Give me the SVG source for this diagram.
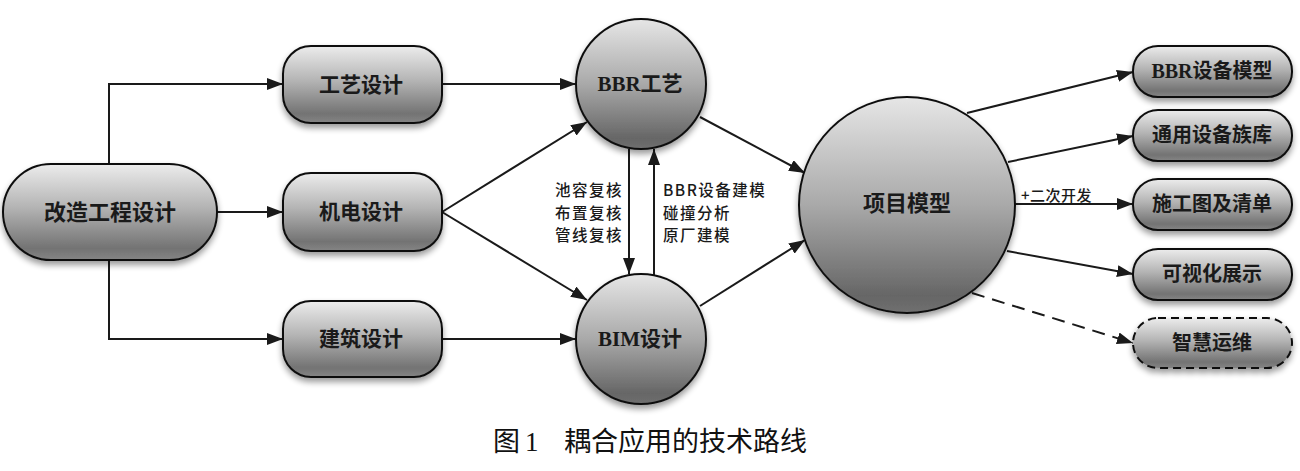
<svg xmlns="http://www.w3.org/2000/svg" width="1300" height="471" viewBox="0 0 1300 471">
<defs>
<linearGradient id="g" x1="0" y1="0" x2="0" y2="1">
<stop offset="0" stop-color="#ececec"/>
<stop offset="0.45" stop-color="#b4b4b4"/>
<stop offset="0.88" stop-color="#737373"/>
<stop offset="1" stop-color="#858585"/>
</linearGradient>
<linearGradient id="gc" x1="0" y1="0" x2="0" y2="1">
<stop offset="0" stop-color="#e6e6e6"/>
<stop offset="0.5" stop-color="#a9a9a9"/>
<stop offset="0.92" stop-color="#666"/>
<stop offset="1" stop-color="#707070"/>
</linearGradient>
<filter id="sh" x="-20%" y="-20%" width="140%" height="150%">
<feGaussianBlur in="SourceAlpha" stdDeviation="3"/>
<feOffset dy="4" result="b"/>
<feComponentTransfer><feFuncA type="linear" slope="0.4"/></feComponentTransfer>
<feMerge><feMergeNode/><feMergeNode in="SourceGraphic"/></feMerge>
</filter>
<marker id="ah" markerUnits="userSpaceOnUse" markerWidth="18" markerHeight="12" refX="16" refY="6" orient="auto">
<path d="M0,0 L16,6 L0,12 z" fill="#1a1a1a"/>
</marker>
</defs>
<style>
.n{fill:url(#g);stroke:#111;stroke-width:2;filter:url(#sh)}
.c{fill:url(#gc);stroke:#111;stroke-width:2;filter:url(#sh)}
.t{font-family:"Liberation Serif","Noto Sans CJK SC",serif;font-weight:bold;fill:#1a1a1a;text-anchor:middle;dominant-baseline:central}
.l{font-family:"Noto Sans CJK SC",sans-serif;font-weight:500;fill:#1a1a1a;font-size:15.5px;letter-spacing:1.5px;dominant-baseline:central}
.e{fill:none;stroke:#1a1a1a;stroke-width:2;marker-end:url(#ah)}
.cap{font-family:"Liberation Serif","Noto Sans CJK SC",serif;fill:#111;font-size:27px;dominant-baseline:central}
</style>
<rect width="1300" height="471" fill="#fff"/>
<g id="connectors">
<path class="e" d="M109,164 V84 H283"/>
<path class="e" d="M217,212 H283"/>
<path class="e" d="M109,260 V339 H283"/>
<path class="e" d="M442,84 H576"/>
<path class="e" d="M442,212 L587,122"/>
<path class="e" d="M442,212 L587,300"/>
<path class="e" d="M442,339 H576"/>
<path class="e" d="M629,149 V274"/>
<path class="e" d="M654,275 V149"/>
<path class="e" d="M700,117 L805,173"/>
<path class="e" d="M700,306 L805,240"/>
<path class="e" d="M967,113 L1133,72"/>
<path class="e" d="M1008,162 L1133,136"/>
<path class="e" d="M1015,204 L1133,204"/>
<path class="e" d="M1007,251 L1133,274"/>
<path class="e" d="M972,293 L1133,343" stroke-dasharray="13,8"/>
</g>
<g id="labels">
<text class="l" x="555" y="189">池容复核</text>
<text class="l" x="555" y="211.5">布置复核</text>
<text class="l" x="555" y="234">管线复核</text>
<text class="l" x="663" y="189">BBR设备建模</text>
<text class="l" x="663" y="211.5">碰撞分析</text>
<text class="l" x="663" y="234">原厂建模</text>
<text class="l" x="1021" y="194" style="font-size:15px;letter-spacing:0.5px">+二次开发</text>
</g>
<g id="n_gaizao"><rect class="n" x="3" y="164" width="214" height="96" rx="48"/><text class="t" x="110" y="212" font-size="22">改造工程设计</text></g>
<g id="n_gongyi"><rect class="n" x="283" y="46" width="159" height="77" rx="28"/><text class="t" x="361" y="85" font-size="21">工艺设计</text></g>
<g id="n_jidian"><rect class="n" x="283" y="173" width="159" height="78" rx="28"/><text class="t" x="361" y="212" font-size="21">机电设计</text></g>
<g id="n_jianzhu"><rect class="n" x="283" y="301" width="159" height="76" rx="28"/><text class="t" x="361" y="339" font-size="21">建筑设计</text></g>
<g id="n_bbr"><circle class="c" cx="641" cy="84" r="65"/><text class="t" x="640" y="84" font-size="21">BBR工艺</text></g>
<g id="n_bim"><circle class="c" cx="641" cy="339" r="65"/><text class="t" x="640" y="339" font-size="21">BIM设计</text></g>
<g id="n_xiangmu"><circle class="c" cx="907" cy="205" r="108"/><text class="t" x="907" y="203" font-size="22">项目模型</text></g>
<g id="n_r1"><rect class="n" x="1133" y="46" width="159" height="51" rx="25"/><text class="t" x="1212" y="71" font-size="20">BBR设备模型</text></g>
<g id="n_r2"><rect class="n" x="1133" y="110" width="159" height="51" rx="25"/><text class="t" x="1212" y="135" font-size="20">通用设备族库</text></g>
<g id="n_r3"><rect class="n" x="1133" y="179" width="159" height="51" rx="25"/><text class="t" x="1212" y="204" font-size="20">施工图及清单</text></g>
<g id="n_r4"><rect class="n" x="1133" y="249" width="159" height="51" rx="25"/><text class="t" x="1212" y="274" font-size="20">可视化展示</text></g>
<g id="n_r5"><rect class="n" x="1133" y="318" width="159" height="50" rx="25" stroke-dasharray="8,5"/><text class="t" x="1212" y="343" font-size="20">智慧运维</text></g>
<g id="caption">
<text class="cap" x="493" y="442">图</text>
<text class="cap" x="525" y="442">1</text>
<text class="cap" x="564" y="442">耦合应用的技术路线</text>
</g>
</svg>
